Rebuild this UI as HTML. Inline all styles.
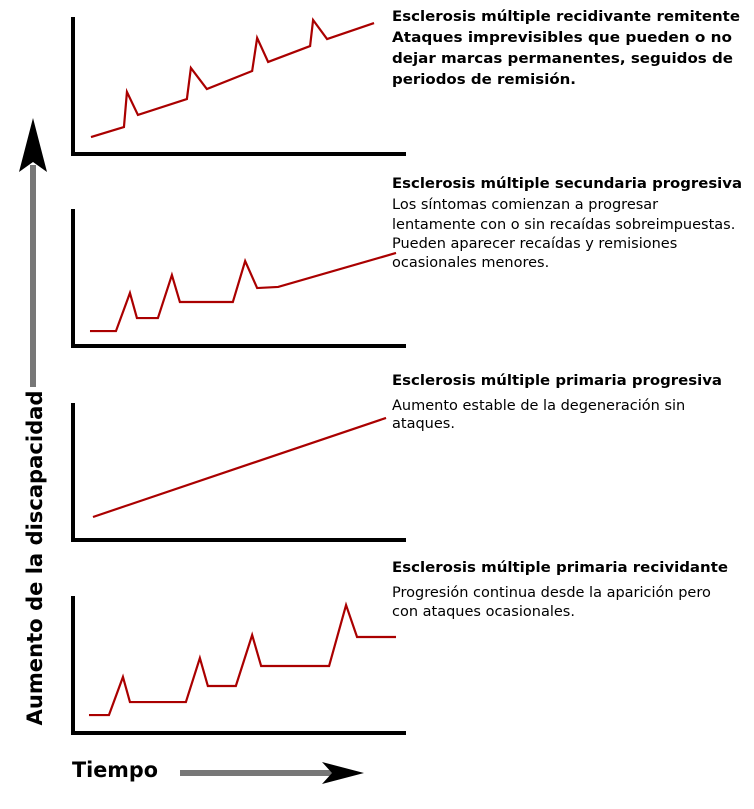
<!DOCTYPE html>
<html><head><meta charset="utf-8"><style>
html,body{margin:0;padding:0;background:#fff;width:754px;height:809px;overflow:hidden}
svg{display:block;font-family:"DejaVu Sans","Liberation Sans",sans-serif}
</style></head><body>
<svg id="chart" width="754" height="809" viewBox="0 0 754 809">
<g id="axes"></g>
<g id="series"></g>
<g font-size="14.5" fill="#000">
 <text x="392" y="21" font-weight="bold" textLength="348" lengthAdjust="spacingAndGlyphs">Esclerosis múltiple recidivante remitente</text>
 <text x="392" y="42" font-weight="bold" textLength="340" lengthAdjust="spacingAndGlyphs">Ataques imprevisibles que pueden o no</text>
 <text x="392" y="63" font-weight="bold" textLength="341" lengthAdjust="spacingAndGlyphs">dejar marcas permanentes, seguidos de</text>
 <text x="392" y="84" font-weight="bold" textLength="184" lengthAdjust="spacingAndGlyphs">periodos de remisión.</text>
 <text x="392" y="188" font-weight="bold" textLength="350" lengthAdjust="spacingAndGlyphs">Esclerosis múltiple secundaria progresiva</text>
 <text x="392" y="209">Los síntomas comienzan a progresar</text>
 <text x="392" y="229">lentamente con o sin recaídas sobreimpuestas.</text>
 <text x="392" y="248">Pueden aparecer recaídas y remisiones</text>
 <text x="392" y="267">ocasionales menores.</text>
 <text x="392" y="385" font-weight="bold" textLength="330" lengthAdjust="spacingAndGlyphs">Esclerosis múltiple primaria progresiva</text>
 <text x="392" y="410">Aumento estable de la degeneración sin</text>
 <text x="392" y="428">ataques.</text>
 <text x="392" y="572" font-weight="bold" textLength="336" lengthAdjust="spacingAndGlyphs">Esclerosis múltiple primaria recividante</text>
 <text x="392" y="597">Progresión continua desde la aparición pero</text>
 <text x="392" y="616">con ataques ocasionales.</text>
</g>
<g>
 <rect x="30" y="165" width="6" height="222" fill="#777"/>
 <polygon points="33,118 47,172 33,162 19,172" fill="#000"/>
</g>
<text transform="translate(42,558) rotate(-90)" text-anchor="middle" font-size="21" font-weight="bold" textLength="335" lengthAdjust="spacingAndGlyphs">Aumento de la discapacidad</text>
<text x="72" y="777" font-size="21" font-weight="bold" textLength="86" lengthAdjust="spacingAndGlyphs">Tiempo</text>
<g>
 <rect x="180" y="770" width="160" height="6" fill="#777"/>
 <polygon points="364,773 322,762 332,773 322,784" fill="#000"/>
</g>
</svg>
<script>
// Panel data: time (0-100) and disability (0-100)
const rrTime = [5.4,15.3,16.2,19.5,34.2,35.4,40.2,53.8,55.3,58.6,71.2,72.1,76.3,90.4];
const rrValue = [12.4,19.7,45.3,28.5,40.1,62.8,47.4,60.6,84.7,67.2,78.8,97.8,83.9,95.6];
const spTime = [5.1,12.9,17.1,19.2,25.5,29.7,32.1,48.0,51.7,55.3,61.6,97.0];
const spValue = [10.9,10.9,38.7,20.4,20.4,51.8,32.1,32.1,62.0,42.3,43.1,67.9];
const ppTime = [6.0,94.0];
const ppValue = [16.8,89.1];
const prTime = [4.8,10.8,15.0,17.1,33.9,38.1,40.5,48.9,53.8,56.5,76.9,82.0,85.3,97.0];
const prValue = [13.1,13.1,40.9,22.6,22.6,54.7,34.3,34.3,71.5,48.9,48.9,93.4,70.1,70.1];
const panelNames = ['rr','sp','pp','pr'];
const panelBottoms = [154,346,540,733];

const NS='http://www.w3.org/2000/svg';
const X0=73, XW=333, PH=137;
function xScale(t){return X0+t*XW/100;}
function yScale(v,bottom){return bottom-v*PH/100;}
const axesG=document.getElementById('axes'), serG=document.getElementById('series');
const data=[[rrTime,rrValue],[spTime,spValue],[ppTime,ppValue],[prTime,prValue]];
data.forEach((d,i)=>{
  const b=panelBottoms[i];
  const ax=document.createElementNS(NS,'path');
  ax.setAttribute('d',`M${X0},${b-PH} L${X0},${b} L${X0+XW},${b}`);
  ax.setAttribute('fill','none');ax.setAttribute('stroke','#000');ax.setAttribute('stroke-width','4');
  
  
  axesG.appendChild(ax);
  const pl=document.createElementNS(NS,'polyline');
  pl.setAttribute('points',d[0].map((t,k)=>xScale(t)+','+yScale(d[1][k],b)).join(' '));
  pl.setAttribute('fill','none');pl.setAttribute('stroke','#aa0000');pl.setAttribute('stroke-width','2.2');
  
  
  serG.appendChild(pl);
});
</script>
</body></html>
